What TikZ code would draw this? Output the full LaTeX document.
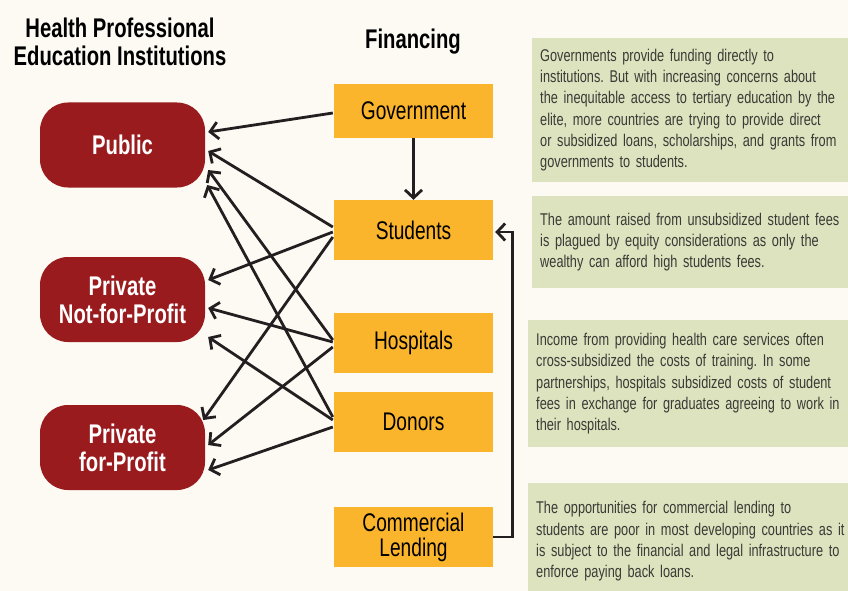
\documentclass[tikz,border=0pt]{standalone}
\usepackage{fontspec}
\setmainfont{Liberation Sans}[FakeStretch=0.75]
\usepackage{xcolor}
\usetikzlibrary{arrows.meta}

\definecolor{bgcream}{HTML}{FDFAF4}
\definecolor{instred}{HTML}{991B1E}
\definecolor{finorange}{HTML}{FBB52C}
\definecolor{notegreen}{HTML}{DDE3BE}
\definecolor{notetext}{HTML}{3A3A36}
\definecolor{arrowblack}{HTML}{231F20}

\frenchspacing

\begin{document}
\begin{tikzpicture}[x=1pt, y=-1pt,
  inst/.style={fill=instred, text=white, font=\fontsize{27}{28}\selectfont\bfseries,
    rounded corners=28pt, minimum width=165pt, minimum height=85pt, align=center, inner sep=0pt},
  fin/.style={fill=finorange, font=\fontsize{25.5}{25}\selectfont,
    minimum width=159pt, minimum height=60pt, align=center, inner sep=0pt},
  note/.style={fill=notegreen, text=notetext, anchor=north west, font=\fontsize{17}{21.2}\selectfont,
    align=left, inner xsep=8pt, inner ysep=0pt, text width=320pt},
  flow/.style={draw=arrowblack, line width=2.8pt, -{Straight Barb[length=8pt,width=17pt]}},
  head/.style={font=\fontsize{27}{28}\selectfont\bfseries, align=center}]

  % Page background
  \useasboundingbox (0,0) rectangle (848,591);
  \fill[bgcream] (0,0) rectangle (848,591);

  % Column headings
  \node[head] (insthead) at (120,42) {Health Professional\\Education Institutions};
  \node[head] (finhead) at (413,42) {Financing};

  % Institutions
  \node[inst] (pub) at (122.5,145) {Public};
  \node[inst] (nfp) at (122.5,299.5) {Private\\Not-for-Profit};
  \node[inst] (fp) at (122.5,447.5) {Private\\for-Profit};

  % Sources of financing
  \node[fin, minimum height=54pt] (gov) at (413.5,111) {Government};
  \node[fin] (stu) at (413.5,230) {Students};
  \node[fin] (hos) at (413.5,343) {Hospitals};
  \node[fin] (don) at (413.5,422) {Donors};
  \node[fin] (cl) at (413.5,537) {Commercial\\Lending};

  % Flows of money to the institutions
  \foreach \src/\sy/\dst/\dx/\dy in {gov/-2/pub/3/13, stu/3/pub/3/-6, hos/3/pub/3/-25,
      don/5/pub/2/-40, stu/-2/nfp/3/19.5, hos/1/nfp/3/-8.5, don/2/nfp/3/-37.5,
      stu/-7/fp/-2/27.5, hos/-4/fp/3/2.5, don/-5/fp/3/-22.5} {
    \draw[flow] ([xshift=-1pt,yshift=\sy pt]\src.west) -- ([xshift=\dx pt,yshift=\dy pt]\dst.east);
  }
  \draw[flow] (gov) -- (stu);
  \draw[flow] (cl.east) -- ++(19,0) |- ([xshift=2pt,yshift=-2pt]stu.east);

  % Notes on each source
  \node[note, minimum height=144pt] (govnote) at (532,38) {Governments provide funding directly to\\
    institutions. But with increasing concerns about\\
    the inequitable access to tertiary education by the\\
    elite, more countries are trying to provide direct\\
    or subsidized loans, scholarships, and grants from\\
    governments to students.};
  \node[note, minimum height=92pt] (stunote) at (532,196) {The amount raised from unsubsidized student fees\\
    is plagued by equity considerations as only the\\
    wealthy can afford high students fees.};
  \node[note, minimum height=127pt] (hosnote) at (528,320) {Income from providing health care services often\\
    cross-subsidized the costs of training. In some\\
    partnerships, hospitals subsidized costs of student\\
    fees in exchange for graduates agreeing to work in\\
    their hospitals.};
  \node[note, minimum height=116pt] (clnote) at (528,483) {The opportunities for commercial lending to\\
    students are poor in most developing countries as it\\
    is subject to the financial and legal infrastructure to\\
    enforce paying back loans.};
\end{tikzpicture}
\end{document}
